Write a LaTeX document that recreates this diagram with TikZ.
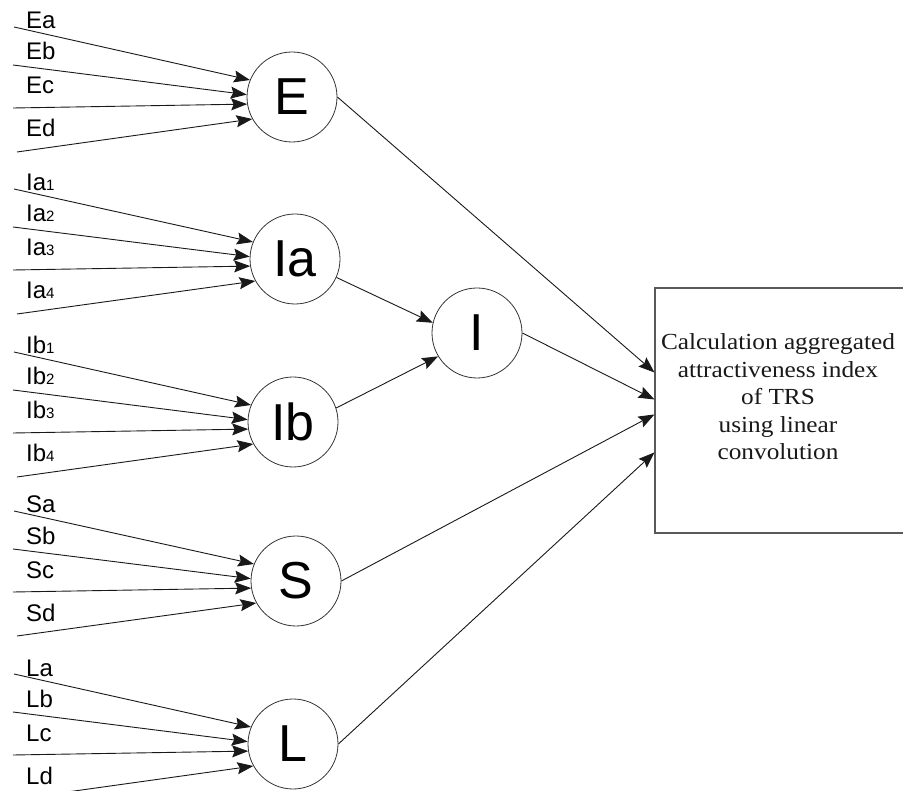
\documentclass[tikz,border=0pt]{standalone}
\usepackage{fontspec}
\setmainfont{Liberation Sans}
\newfontfamily\boxfont[FakeStretch=1.1]{Liberation Serif}
\usetikzlibrary{arrows.meta}
\newcommand\sbd[1]{{\fontsize{15}{15}\selectfont #1}}
\begin{document}
\begin{tikzpicture}[x=1pt,y=-1pt,
  unit/.style={circle,draw=black!80,line width=0.8pt,minimum size=90pt,inner sep=0pt,
               font=\fontsize{52}{52}\selectfont},
  lab/.style={anchor=base west,inner sep=0pt,font=\fontsize{24}{24}\selectfont},
  conn/.style={draw=black!90,line width=0.9pt,-{Stealth[length=16pt,width=12pt,inset=2.5pt]}},
  calcbox/.style={rectangle,draw=black!65,line width=1.1pt,minimum width=265pt,minimum height=245pt,inner sep=0pt},
  calctext/.style={align=center,inner sep=0pt,text=black!90,font=\boxfont\fontsize{23}{27.5}\selectfont}]
\useasboundingbox (0,0) rectangle (903,791);
\clip (0,0) rectangle (903,791);
\fill[white] (0,0) rectangle (903,791);

\foreach \n/\cx/\cy/\t/\la/\lb/\lc/\ld in {
  E/292/97/E/Ea/Eb/Ec/Ed,
  Ia/295/259/Ia/Ia\sbd{1}/Ia\sbd{2}/Ia\sbd{3}/Ia\sbd{4},
  Ib/293/422/Ib/Ib\sbd{1}/Ib\sbd{2}/Ib\sbd{3}/Ib\sbd{4},
  S/296/581/S/Sa/Sb/Sc/Sd,
  L/293/744/L/La/Lb/Lc/Ld}{
  \node[unit] (\n) at (\cx,\cy) {\t};
  \coordinate (\n-sa) at (14,{\cy-70});
  \coordinate (\n-sb) at (13,{\cy-32});
  \coordinate (\n-sc) at (13,{\cy+11});
  \coordinate (\n-sd) at (17,{\cy+55});
  \draw[conn] (\n-sa) -- (\n.158);
  \draw[conn] (\n-sb) -- (\n.177);
  \draw[conn] (\n-sc) -- (\n.189);
  \draw[conn] (\n-sd) -- (\n.209);
  \node[lab] (\n-la) at (26,{\cy-68}) {\la};
  \node[lab] (\n-lb) at (26,{\cy-37}) {\lb};
  \node[lab] (\n-lc) at (26,{\cy-3}) {\lc};
  \node[lab] (\n-ld) at (26,{\cy+40}) {\ld};
}

\node[unit] (I) at (477,333) {I};
\node[calcbox] (box) at (787.5,410.5) {};
\node[calctext] (boxtext) at (778,397) {Calculation aggregated\\attractiveness index\\of TRS\\using linear\\convolution};

\coordinate (t1) at ([yshift=-85pt]box.north west);
\coordinate (t2) at ([yshift=-112pt]box.north west);
\coordinate (t3) at ([yshift=-127pt]box.north west);
\coordinate (t4) at ([yshift=-165pt]box.north west);

\draw[conn] (Ia.-24) -- (I.167);
\draw[conn] (Ib.18) -- (I.211);
\draw[conn] (E.east) -- (t1);
\draw[conn] (I.east) -- (t2);
\draw[conn] (S.east) -- (t3);
\draw[conn] (L.east) -- (t4);
\end{tikzpicture}
\end{document}
